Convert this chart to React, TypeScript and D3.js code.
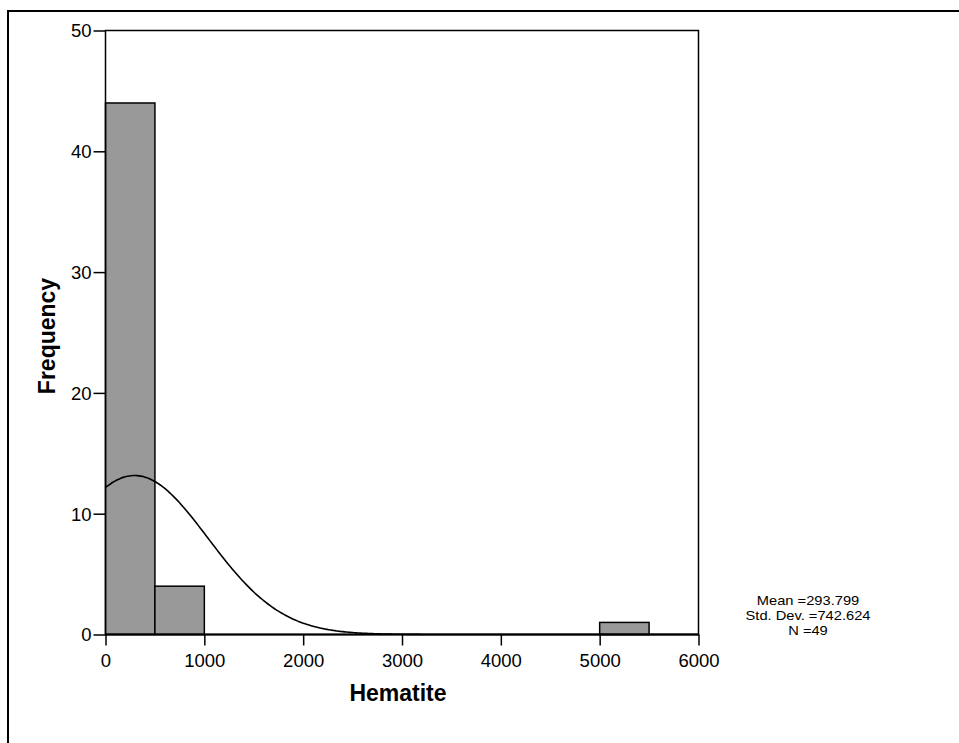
import * as d3 from "d3";
import { useEffect, useRef } from "react";

// histogram bins of Hematite (bin start, bin end, count)
const binStarts = [0, 500, 5000];
const binEnds = [500, 1000, 5500];
const binCounts = [44, 4, 1];
const xTicks = [0, 1000, 2000, 3000, 4000, 5000, 6000];
const yTicks = [0, 10, 20, 30, 40, 50];
const statsLines = ["Mean =293.799", "Std. Dev. =742.624", "N =49"];
const mean = 293.799;
const stdDev = 742.624;
const nObs = 49;
const binWidth = 500;

const App = () => {
  const svgRef = useRef(null);

  useEffect(() => {
    const w = 959;
    const h = 743;
    const svg = d3.select(svgRef.current).attr("width", w).attr("height", h);
    svg.selectAll("*").remove();
    const font = "'Liberation Sans', Arial, sans-serif";

    // outer frame (only left/top are visible in the original)
    svg
      .append("rect")
      .attr("x", 8)
      .attr("y", 11)
      .attr("width", 960)
      .attr("height", 740)
      .attr("fill", "none")
      .attr("stroke", "#000")
      .attr("stroke-width", 2);

    const left = 105.5;
    const right = 698.5;
    const top = 30.5;
    const bottom = 634.5;

    const x = d3.scaleLinear().domain([0, 6000]).range([left, right]);
    const y = d3.scaleLinear().domain([0, 50]).range([bottom, top]);

    const g = svg.append("g");

    // bars
    g.selectAll("rect.bar")
      .data(binCounts)
      .enter()
      .append("rect")
      .attr("class", "bar")
      .attr("x", (_d, i) => x(binStarts[i]))
      .attr("y", (d) => y(d))
      .attr("width", (_d, i) => x(binEnds[i]) - x(binStarts[i]))
      .attr("height", (d) => y(0) - y(d))
      .attr("fill", "#999999")
      .attr("stroke", "#000")
      .attr("stroke-width", 1.5);

    // normal curve
    const pts = d3.range(0, 6001, 20).map((v) => {
      const z = (v - mean) / stdDev;
      return [v, (nObs * binWidth * Math.exp(-0.5 * z * z)) / (stdDev * Math.sqrt(2 * Math.PI))];
    });
    g.append("path")
      .datum(pts)
      .attr(
        "d",
        d3
          .line()
          .x((d) => x(d[0]))
          .y((d) => y(d[1]))
          .curve(d3.curveBasis)
      )
      .attr("fill", "none")
      .attr("stroke", "#000")
      .attr("stroke-width", 1.6);

    // plot box
    g.append("rect")
      .attr("x", left)
      .attr("y", top)
      .attr("width", right - left)
      .attr("height", bottom - top)
      .attr("fill", "none")
      .attr("stroke", "#000")
      .attr("stroke-width", 1.5);
    g.append("line")
      .attr("x1", left)
      .attr("x2", right)
      .attr("y1", bottom)
      .attr("y2", bottom)
      .attr("stroke", "#000")
      .attr("stroke-width", 2);

    // axes
    const xAxis = d3.axisBottom(x).tickValues(xTicks).tickSize(11).tickFormat(d3.format("d"));
    const xg = svg.append("g").attr("transform", `translate(0,${bottom})`).call(xAxis);
    const yAxis = d3.axisLeft(y).tickValues(yTicks).tickSize(12).tickFormat(d3.format("d"));
    const yg = svg.append("g").attr("transform", `translate(${left},0)`).call(yAxis);
    [xg, yg].forEach((a) => {
      a.select(".domain").remove();
      a.selectAll("line").attr("stroke", "#000").attr("stroke-width", 1.5);
      a.selectAll("text")
        .attr("fill", "#000")
        .style("font-family", font)
        .style("font-size", "18.5px");
    });
    xg.selectAll("text").attr("dy", "0").attr("y", 32);
    yg.selectAll("text").attr("x", -14).attr("dy", "0.35em");

    // axis titles
    svg
      .append("text")
      .attr("x", 398)
      .attr("y", 701)
      .attr("text-anchor", "middle")
      .style("font-family", font)
      .style("font-size", "23px")
      .style("font-weight", "bold")
      .text("Hematite");
    svg
      .append("text")
      .attr("transform", `translate(55,336) rotate(-90)`)
      .attr("text-anchor", "middle")
      .style("font-family", font)
      .style("font-size", "23px")
      .style("font-weight", "bold")
      .text("Frequency");

    // stats (slightly stretched horizontally like the original)
    svg
      .append("g")
      .attr("transform", "translate(808,0) scale(1.13,1)")
      .selectAll("text.stat")
      .data(statsLines)
      .enter()
      .append("text")
      .attr("class", "stat")
      .attr("x", 0)
      .attr("y", (_d, i) => 605 + i * 15)
      .attr("text-anchor", "middle")
      .style("font-family", font)
      .style("font-size", "13px")
      .text((d) => d);
  }, []);

  return (
    <div style={{ position: "absolute", left: 0, top: 0 }}>
      <svg ref={svgRef} style={{ display: "block", background: "#fff" }}></svg>
    </div>
  );
};

export default App;
